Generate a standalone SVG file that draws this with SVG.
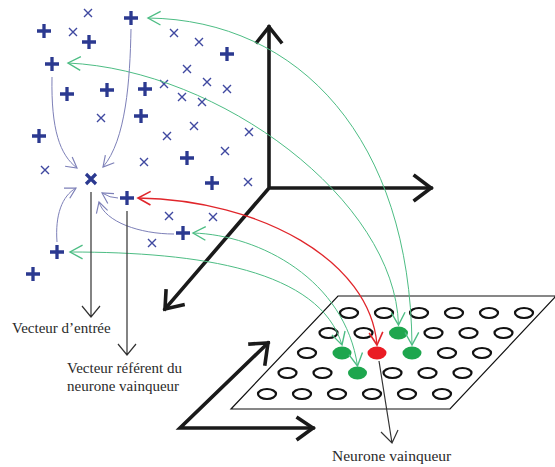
<svg xmlns="http://www.w3.org/2000/svg" xmlns:xlink="http://www.w3.org/1999/xlink" width="555" height="467" viewBox="0 0 555 467">
<style>
.plus{stroke:#2b3990;stroke-width:3.3;fill:none}
.cross{stroke:#3f48a0;stroke-width:1.4;fill:none}
.big{stroke:#2b3990;stroke-width:3.2;fill:none}
.axis{stroke:#1a1a1a;stroke-width:3.6;fill:none;stroke-linecap:square;stroke-linejoin:miter}
.grn{stroke:#4dbd84;stroke-width:1;fill:none;marker-start:url(#ag);marker-end:url(#ag)}
.red{stroke:#e0262b;stroke-width:1.3;fill:none;marker-start:url(#ar);marker-end:url(#ar)}
.pur{stroke:#7d80b8;stroke-width:1;fill:none;marker-end:url(#ap)}
.blk{stroke:#333;stroke-width:1.2;fill:none}
.cell{fill:none;stroke:#111;stroke-width:2.2}
.gcell{fill:#1ea64e}
.rcell{fill:#ea1c24}
text{font-family:"Liberation Serif","Times New Roman",serif;fill:#2a2a2a;font-size:15px}
</style>
<defs>
<path id="p" d="M-7,0H7M0,-7V7"/>
<path id="x" d="M-4,-4L4,4M-4,4L4,-4"/>
<marker id="ag" markerUnits="userSpaceOnUse" markerWidth="16" markerHeight="16" refX="12" refY="7" orient="auto-start-reverse" viewBox="0 0 14 14"><path d="M1,1L12,7L1,13" fill="none" stroke="#4dbd84" stroke-width="1.2"/></marker>
<marker id="ar" markerUnits="userSpaceOnUse" markerWidth="16" markerHeight="16" refX="12" refY="7" orient="auto-start-reverse" viewBox="0 0 14 14"><path d="M1,1L12,7L1,13" fill="none" stroke="#e0262b" stroke-width="1.4"/></marker>
<marker id="ap" markerUnits="userSpaceOnUse" markerWidth="14" markerHeight="14" refX="10" refY="6" orient="auto" viewBox="0 0 12 12"><path d="M1,1L10,6L1,11" fill="none" stroke="#7d80b8" stroke-width="1"/></marker>
</defs>
<rect width="555" height="467" fill="#fff"/>

<g id="input-space-axes">
<path class="axis" d="M269,188V27M269,188H431M269,188L165,309"/>
<path class="axis" d="M257,42L269,27L281,42M415,176L431,188L415,200M166,291L165,309L183,305"/>
</g>

<g id="map-axes">
<path class="axis" d="M268,343L180,428H313"/>
<path class="axis" d="M250,344L268,343L265,364M298,418L313,428L298,439"/>
</g>

<g id="map-grid">
<path d="M338,296H556L450,409H231Z" fill="none" stroke="#111" stroke-width="1.2"/>
<g id="cells">
<ellipse class="cell" cx="349" cy="313" rx="9" ry="5"/><ellipse class="cell" cx="384" cy="313" rx="9" ry="5"/><ellipse class="cell" cx="419" cy="313" rx="9" ry="5"/><ellipse class="cell" cx="454" cy="313" rx="9" ry="5"/><ellipse class="cell" cx="489" cy="313" rx="9" ry="5"/><ellipse class="cell" cx="524" cy="313" rx="9" ry="5"/>
<ellipse class="cell" cx="328.5" cy="333" rx="9" ry="5"/><ellipse class="cell" cx="363.5" cy="333" rx="9" ry="5"/><ellipse class="gcell" cx="398.5" cy="333" rx="9.5" ry="6.5"/><ellipse class="cell" cx="433.5" cy="333" rx="9" ry="5"/><ellipse class="cell" cx="468.5" cy="333" rx="9" ry="5"/><ellipse class="cell" cx="503.5" cy="333" rx="9" ry="5"/>
<ellipse class="cell" cx="307" cy="353" rx="9" ry="5"/><ellipse class="gcell" cx="342" cy="353" rx="9.5" ry="6.5"/><ellipse class="rcell" cx="377" cy="353" rx="9.5" ry="6.5"/><ellipse class="gcell" cx="412" cy="353" rx="9.5" ry="6.5"/><ellipse class="cell" cx="447" cy="353" rx="9" ry="5"/><ellipse class="cell" cx="482" cy="353" rx="9" ry="5"/>
<ellipse class="cell" cx="287.5" cy="373" rx="9" ry="5"/><ellipse class="cell" cx="322.5" cy="373" rx="9" ry="5"/><ellipse class="gcell" cx="357.5" cy="373" rx="9.5" ry="6.5"/><ellipse class="cell" cx="392.5" cy="373" rx="9" ry="5"/><ellipse class="cell" cx="427.5" cy="373" rx="9" ry="5"/><ellipse class="cell" cx="462.5" cy="373" rx="9" ry="5"/>
<ellipse class="cell" cx="267" cy="394" rx="9" ry="5"/><ellipse class="cell" cx="302" cy="394" rx="9" ry="5"/><ellipse class="cell" cx="337" cy="394" rx="9" ry="5"/><ellipse class="cell" cx="372" cy="394" rx="9" ry="5"/><ellipse class="cell" cx="407" cy="394" rx="9" ry="5"/><ellipse class="cell" cx="442" cy="394" rx="9" ry="5"/>
</g>
</g>

<g id="data-points">
<g class="plus">
<use href="#p" x="131" y="18"/><use href="#p" x="44" y="31"/><use href="#p" x="89" y="42"/><use href="#p" x="52" y="64"/><use href="#p" x="67" y="94"/><use href="#p" x="107" y="90"/><use href="#p" x="145" y="89"/><use href="#p" x="227" y="54"/><use href="#p" x="141" y="116"/><use href="#p" x="39" y="136"/><use href="#p" x="187" y="158"/><use href="#p" x="212" y="183"/><use href="#p" x="127" y="198"/><use href="#p" x="183" y="233"/><use href="#p" x="57" y="252"/><use href="#p" x="33" y="274"/>
</g>
<g class="cross">
<use href="#x" x="88" y="13"/><use href="#x" x="73" y="32"/><use href="#x" x="174" y="33"/><use href="#x" x="199" y="42"/><use href="#x" x="187" y="69"/><use href="#x" x="164" y="84"/><use href="#x" x="207" y="82"/><use href="#x" x="227" y="89"/><use href="#x" x="182" y="97"/><use href="#x" x="202" y="102"/><use href="#x" x="101" y="118"/><use href="#x" x="194" y="126"/><use href="#x" x="167" y="136"/><use href="#x" x="249" y="132"/><use href="#x" x="225" y="151"/><use href="#x" x="144" y="162"/><use href="#x" x="45" y="170"/><use href="#x" x="248" y="182"/><use href="#x" x="169" y="216"/><use href="#x" x="213" y="217"/><use href="#x" x="152" y="243"/>
</g>
<path id="input-vector" class="big" d="M86,174L96,184M86,184L96,174"/>
</g>

<g id="connectors">
<path class="grn" d="M148,18C300,20 410,140 412,345"/>
<path class="grn" d="M68,63C220,70 395,200 398.5,325"/>
<path class="grn" d="M193,233C260,235 345,280 357.5,366"/>
<path class="grn" d="M70,252C200,252 320,270 342,345"/>
<path class="red" d="M138,198C260,200 370,260 377,345"/>
<path class="pur" d="M131,29C130,80 126,140 103,167"/>
<path class="pur" d="M52,77C51,130 60,155 77,168"/>
<path class="pur" d="M57,242C55,215 62,196 76,188"/>
<path class="pur" d="M118,198Q110,198 102,193"/>
<path class="pur" d="M174,234C140,234 105,222 99,202"/>
<path class="blk" d="M91,192V317M82,306L91,317L100,306"/>
<path class="blk" d="M127,211V355M118,344L127,355L136,344"/>
<path class="blk" d="M379,361L392,443M381,432L392,443L398,430"/>
</g>

<g id="labels">
<text x="12" y="333">Vecteur d’entrée</text>
<text x="67" y="373">Vecteur référent du</text>
<text x="67" y="391">neurone vainqueur</text>
<text x="332" y="461" style="font-size:15.5px">Neurone vainqueur</text>
</g>
</svg>
